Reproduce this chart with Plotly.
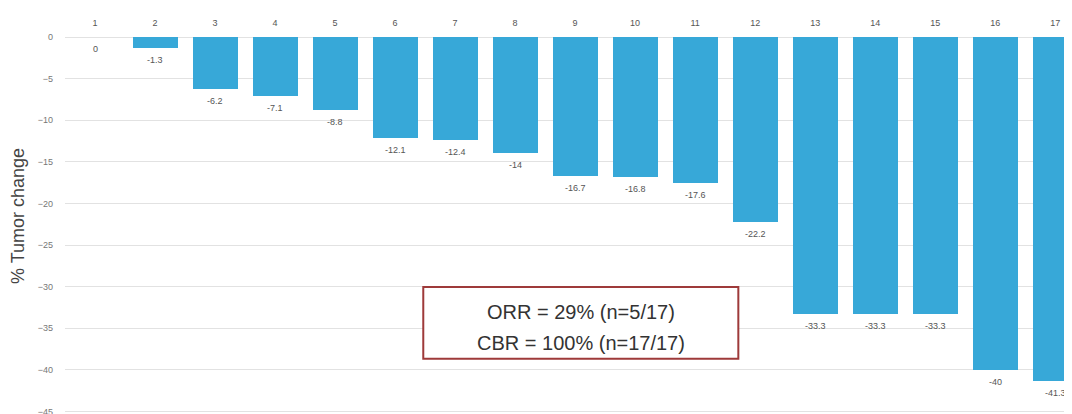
import plotly.graph_objects as go

patients = list(range(1, 18))
tumor_change = [0, -1.3, -6.2, -7.1, -8.8, -12.1, -12.4, -14, -16.7, -16.8, -17.6,
                -22.2, -33.3, -33.3, -33.3, -40, -41.3]
value_labels = ["0", "-1.3", "-6.2", "-7.1", "-8.8", "-12.1", "-12.4", "-14", "-16.7",
                "-16.8", "-17.6", "-22.2", "-33.3", "-33.3", "-33.3", "-40", "-41.3"]
y_ticks = [0, -5, -10, -15, -20, -25, -30, -35, -40, -45]
box_lines = ["ORR = 29% (n=5/17)", "CBR = 100% (n=17/17)"]

BAR = "#37a8d8"
GRID = "#e2e2e2"
FONT = "Liberation Sans, Arial"

fig = go.Figure()
fig.add_trace(go.Bar(
    x=patients, y=tumor_change, width=0.75,
    marker=dict(color=BAR, line=dict(width=0)),
    hoverinfo="x+y",
))

for x, v, t in zip(patients, tumor_change, value_labels):
    fig.add_annotation(x=x, y=v, text=t, showarrow=False, xref="x", yref="y",
                       yanchor="middle", yshift=-12,
                       font=dict(family=FONT, size=9, color="#555"))

# results box
fig.add_shape(type="rect", xref="x", yref="y", x0=6.47, x1=11.72, y0=-30.05, y1=-38.67,
              line=dict(color="#9e3a3a", width=2), fillcolor="white", layer="above")
fig.add_annotation(x=9.1, y=-33.0, xref="x", yref="y", showarrow=False,
                   text=box_lines[0], font=dict(family=FONT, size=20, color="#333"))
fig.add_annotation(x=9.1, y=-36.8, xref="x", yref="y", showarrow=False,
                   text=box_lines[1], font=dict(family=FONT, size=20, color="#333"))

# y-axis title
fig.add_annotation(xref="paper", yref="paper", x=-0.0467, y=0.525, xanchor="center",
                   yanchor="middle", textangle=-90, showarrow=False,
                   text="% Tumor change", font=dict(family=FONT, size=18, color="#444"))

fig.update_layout(
    width=1064, height=406,
    margin=dict(l=57, r=0, t=29, b=0, autoexpand=False),
    plot_bgcolor="white", paper_bgcolor="white",
    showlegend=False,
    bargap=0,
    xaxis=dict(
        range=[0.5, 17.28], side="top", tickmode="array", tickvals=patients,
        ticktext=[str(p) for p in patients], showgrid=False, zeroline=False,
        showline=False, ticks="", ticklabelstandoff=8, automargin=False,
        tickfont=dict(family=FONT, size=9, color="#555"),
    ),
    yaxis=dict(
        range=[-45.31, 0], tickmode="array", tickvals=y_ticks,
        showgrid=True, gridcolor=GRID, gridwidth=1,
        zeroline=True, zerolinecolor=GRID, zerolinewidth=1,
        showline=False, ticks="", ticklabelstandoff=11, automargin=False,
        ticklabeloverflow="allow",
        tickfont=dict(family=FONT, size=9, color="#777"),
    ),
)

fig.write_html("out.html")
